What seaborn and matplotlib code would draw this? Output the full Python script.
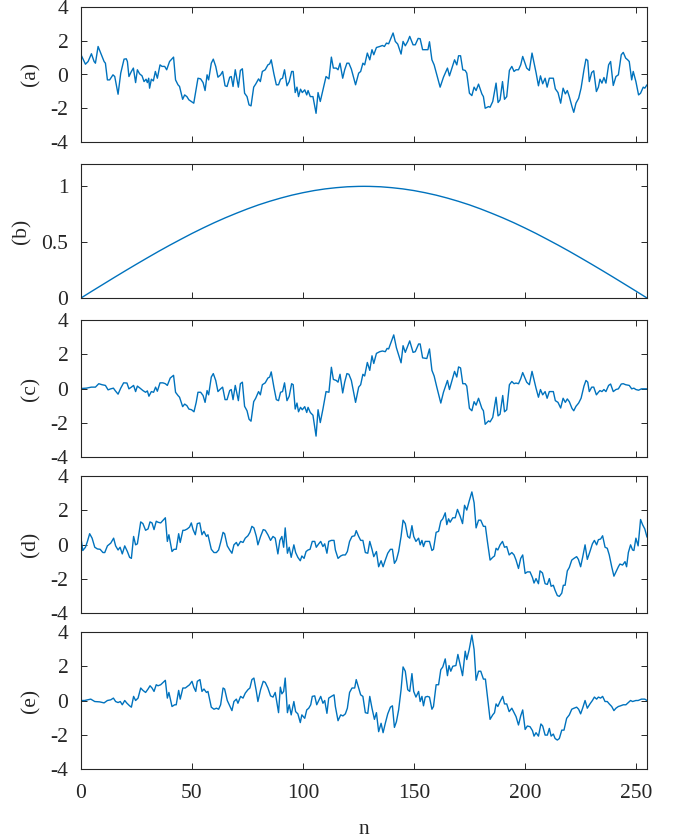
import matplotlib
matplotlib.use("Agg")
import matplotlib.pyplot as plt
import pandas as pd
import seaborn as sns

# ---------------- data ----------------
series_a = [
    (0, 1.17), (2, 0.61), (3.2, 0.77), (4.7, 1.23), (5.9, 0.77), (6.5, 0.67), (7.7, 1.66), (9.2, 1.17),
    (10.4, 0.77), (11, 0.67), (11.9, -0.32), (12.9, -0.32), (14.4, -0.02), (15.2, -0.12), (16.7, -1.17),
    (17.9, 0.08), (19.4, 0.91), (20.4, 0.93), (20.9, 0.77), (21.6, -0.12), (22.7, 0.18), (23.6, 0.38),
    (24.6, -0.48), (25.4, 0.28), (26.4, 0.04), (27.5, -0.08), (28.4, -0.42), (29.3, -0.28), (29.9, -0.48),
    (30.5, -0.22), (30.9, -0.81), (31.7, -0.28), (32.6, -0.38), (33.5, 0.18), (34.4, -0.22), (35.6, 0.57),
    (36.5, 0.48), (37.7, 0.48), (38.6, 0.28), (39.9, 0.77), (41.7, 1.03), (42.6, -0.32), (43.7, -0.61),
    (44.4, -0.71), (45.8, -1.47), (46.7, -1.21), (47.7, -1.31), (48.6, -1.50), (49.7, -1.60), (50.8, -1.70),
    (51.8, -0.91), (52.7, -0.22), (53.9, -0.26), (55, -0.48), (55.9, -0.95), (56.8, -0.02), (57.5, -0.32),
    (58.7, 0.67), (59.6, 0.91), (60.7, 0.48), (61.7, -0.16), (62.9, -0.02), (63.8, 0.18), (64.9, -0.67),
    (65.8, -0.71), (67, -0.16), (67.7, -0.12), (68.5, -0.71), (69.5, 0.28), (70.9, -0.75), (71.8, 0.24),
    (72.7, 0.34), (73.7, -1.11), (74.8, -1.31), (75.7, -1.80), (76.6, -1.86), (77.8, -0.75), (78.7, -0.57),
    (80, -0.26), (80.8, -0.42), (81.7, 0.18), (83, 0.28), (84.2, 0.57), (85, 0.63), (85.7, 0.87), (86.9, 0.04),
    (88, -0.61), (89, -0.61), (89.9, -0.28), (90.8, -0.22), (91.7, 0.28), (92.8, -0.67), (93.8, -0.42),
    (94.9, 0.18), (95.6, 0.18), (96.5, -1.07), (97.3, -0.75), (98, -1.31), (98.9, -0.87), (99.7, -1.07),
    (100.8, -0.91), (101.7, -1.21), (102.3, -0.95), (103.3, -1.31), (104.5, -1.31), (105.9, -2.30),
    (106.8, -1.07), (107.8, -1.60), (109, -0.91), (110.4, -0.12), (111.7, -0.26), (112.8, 1.03), (113.7, 0.38),
    (115, 0.38), (115.8, 0.28), (116.7, 0.67), (117.9, -0.22), (118.8, 0.28), (119.8, 0.67), (120.7, 0.67),
    (121.8, 0.32), (123.7, -0.61), (125.1, 0.08), (126, 0.18), (127, 0.67), (127.8, 0.57), (129, 1.27),
    (130.1, 0.87), (131.1, 1.47), (131.9, 1.17), (133.1, 1.60), (134.6, 1.66), (135.8, 1.72), (136.7, 1.66),
    (137.6, 1.86), (138.6, 1.82), (140.6, 2.46), (141.6, 1.96), (142.7, 1.80), (144.2, 1.21), (145.1, 1.96),
    (146.1, 1.70), (147.2, 1.96), (148.1, 2.26), (149.6, 1.76), (150.6, 1.76), (151.9, 2.14), (152.8, 2.12),
    (153.9, 1.47), (155.5, 1.47), (156.3, 1.47), (157, 1.94), (158.1, 0.87), (159.1, 0.57), (160.3, -0.02),
    (161.8, -0.75), (163.3, -0.16), (165.1, 0.38), (166, -0.08), (168.3, 0.87), (169.3, 0.57), (170.1, 1.11),
    (171, 1.11), (172, 0.28), (173.1, 0.24), (173.8, 0.08), (175, -1.11), (176.1, -1.25), (177.1, -0.75),
    (178, -0.95), (179.1, -0.57), (180.6, -1.15), (181.3, -1.31), (182.1, -2.00), (183.6, -1.90),
    (184.3, -1.94), (185.5, -1.60), (187, -0.51), (187.9, -1.66), (188.8, -1.50), (189.9, -0.42),
    (190.8, -1.47), (191.8, -1.31), (193, 0.24), (194.1, 0.48), (195.1, 0.18), (196, 0.28), (197.1, 0.28),
    (198.1, 0.57), (199, 1.07), (200.8, 0.38), (202, 0.24), (203.2, 1.27), (205, 0.12), (206.1, -0.67),
    (207, -0.08), (208, -0.55), (209.1, -0.22), (210, -0.75), (211, -0.22), (212.8, -0.22), (213.7, -0.85),
    (214.9, -1.07), (216.1, -1.70), (217.2, -0.81), (218.2, -1.15), (219.1, -0.95), (220, -1.31),
    (221.2, -1.90), (222, -2.24), (223, -1.70), (224.2, -1.41), (225.3, -0.81), (226.6, 0.28), (227.5, 0.91),
    (228.3, 0.83), (229, -0.42), (230.1, 0.12), (231, 0.22), (232.2, -1.01), (233.1, -0.75), (233.8, -0.28),
    (234.7, -0.51), (235.6, -0.18), (236.5, -0.51), (237.7, 0.57), (238.6, 0.77), (239.8, -0.65),
    (241, -0.12), (242.1, -0.02), (243.4, 1.17), (244.3, 1.31), (245.4, 0.97), (246.3, 0.87), (247, 0.77),
    (248.1, -0.32), (248.8, 0.18), (250, -0.42), (251.2, -1.21), (252.1, -1.11), (253.3, -0.75),
    (254, -0.81), (255, -0.61),
]

series_b = [
    (0, 0.0), (5, 0.062), (10, 0.123), (15, 0.184), (20, 0.244), (25, 0.303), (30, 0.361), (35, 0.418),
    (40, 0.473), (45, 0.526), (50, 0.578), (55, 0.627), (60, 0.674), (65, 0.718), (70, 0.759), (75, 0.798),
    (80, 0.834), (85, 0.866), (90, 0.895), (95, 0.921), (100, 0.943), (105, 0.962), (110, 0.977),
    (115, 0.988), (120, 0.996), (125, 0.9995), (127.5, 1.0), (130, 0.9995), (135, 0.996), (140, 0.988),
    (145, 0.977), (150, 0.962), (155, 0.943), (160, 0.921), (165, 0.895), (170, 0.866), (175, 0.834),
    (180, 0.798), (185, 0.759), (190, 0.718), (195, 0.674), (200, 0.627), (205, 0.578), (210, 0.526),
    (215, 0.473), (220, 0.418), (225, 0.361), (230, 0.303), (235, 0.244), (240, 0.184), (245, 0.123),
    (250, 0.062), (255, 0.0),
]

series_c = [
    (0, 0.0), (2.4, 0.02), (4.7, 0.08), (6.5, 0.08), (8, 0.28), (9.5, 0.22), (11, 0.18), (12.2, -0.08),
    (13.4, -0.02), (14.6, 0.02), (15.5, -0.14), (16.7, -0.33), (17.9, 0.02), (19.2, 0.33), (20.7, 0.32),
    (21.6, -0.02), (22.7, 0.08), (23.7, 0.18), (24.6, -0.18), (25.4, 0.14), (26.6, 0.02), (27.9, -0.12),
    (29.1, -0.22), (29.9, -0.14), (30.6, -0.45), (31.7, -0.18), (32.7, -0.22), (33.6, 0.08), (34.4, -0.16),
    (35.6, 0.33), (36.9, 0.33), (38, 0.28), (38.9, 0.18), (40.2, 0.61), (41.7, 0.77), (42.6, -0.22),
    (43.7, -0.41), (44.4, -0.51), (45.8, -1.06), (46.7, -0.91), (47.7, -1.00), (48.6, -1.20), (49.8, -1.24),
    (50.9, -1.36), (51.9, -0.81), (52.7, -0.22), (53.9, -0.22), (55, -0.41), (55.9, -0.81), (56.8, -0.12),
    (57.5, -0.37), (58.7, 0.67), (59.6, 0.87), (60.7, 0.47), (61.7, -0.18), (62.9, -0.02), (63.8, 0.08),
    (64.9, -0.65), (65.8, -0.65), (67, -0.12), (67.7, -0.06), (68.5, -0.65), (69.5, 0.18), (70.9, -0.71),
    (71.8, 0.28), (72.7, 0.37), (73.7, -1.04), (74.8, -1.30), (75.7, -1.79), (76.6, -1.91), (77.8, -0.77),
    (78.7, -0.57), (80, -0.18), (80.8, -0.37), (81.7, 0.22), (83, 0.33), (84.2, 0.61), (85, 0.67), (85.7, 0.97),
    (86.9, 0.08), (88, -0.65), (89, -0.71), (89.9, -0.22), (90.8, -0.18), (91.7, 0.33), (92.8, -0.71),
    (93.8, -0.45), (94.9, 0.28), (95.6, 0.22), (96.5, -1.20), (97.3, -0.85), (98, -1.36), (98.9, -1.10),
    (99.7, -1.24), (100.8, -1.06), (101.7, -1.40), (102.3, -1.10), (103.3, -1.40), (104.5, -1.56),
    (105.9, -2.78), (106.8, -1.24), (107.8, -1.99), (109, -1.20), (110.4, -0.18), (111.7, -0.22), (112.8, 1.24),
    (113.7, 0.53), (115, 0.47), (115.8, 0.37), (116.7, 0.83), (117.9, -0.26), (118.8, 0.37), (119.8, 0.87),
    (120.7, 0.83), (121.8, 0.47), (123.7, -0.81), (125.1, 0.08), (126, 0.22), (127, 0.83), (127.8, 0.73),
    (129, 1.52), (130.1, 1.06), (131.1, 1.91), (131.9, 1.46), (133.1, 2.05), (134.6, 2.15), (135.8, 2.19),
    (137.1, 2.15), (137.9, 2.34), (138.6, 2.31), (140.9, 3.13), (142.1, 2.38), (144.2, 1.50), (145.1, 2.50),
    (146.1, 2.11), (148.1, 2.78), (149.6, 2.11), (150.6, 2.15), (152.1, 2.60), (152.8, 2.60), (153.9, 1.79),
    (155.8, 1.75), (157, 2.31), (158.1, 1.06), (159.1, 0.73), (160.3, 0.08), (162.1, -0.85), (163.3, -0.22),
    (165.1, 0.47), (166, -0.06), (168.3, 1.00), (169.3, 0.67), (170.1, 1.26), (171, 1.20), (172, 0.28),
    (173.1, 0.28), (173.8, 0.14), (175, -1.16), (176.1, -1.30), (177.1, -0.77), (178, -0.97), (179.1, -0.57),
    (180.6, -1.16), (181.3, -1.30), (182.1, -2.09), (183.6, -1.89), (184.3, -1.95), (185.5, -1.69),
    (187, -0.51), (187.9, -1.60), (188.8, -1.50), (190, -0.41), (190.8, -1.36), (191.8, -1.24), (193, 0.22),
    (194.1, 0.41), (195.1, 0.28), (196, 0.32), (197.1, 0.28), (198.1, 0.57), (199, 0.93), (200.8, 0.37),
    (202, 0.22), (203.2, 1.00), (205, 0.02), (206.1, -0.51), (207, -0.06), (208, -0.37), (209.1, -0.18),
    (210, -0.57), (211, -0.18), (212.8, -0.18), (213.7, -0.71), (214.9, -0.81), (216.1, -1.14), (217.2, -0.57),
    (218.2, -0.81), (219.1, -0.61), (220, -0.77), (221.2, -1.16), (222, -1.30), (223, -1.04), (224.2, -0.85),
    (225.3, -0.57), (226.6, 0.14), (227.5, 0.47), (228.3, 0.37), (229, -0.18), (230.1, 0.08), (231, 0.08),
    (232.2, -0.37), (233.1, -0.22), (233.8, -0.12), (234.7, -0.18), (235.6, -0.06), (236.5, -0.18),
    (237.7, 0.18), (238.6, 0.26), (239.8, -0.18), (241, -0.06), (242.1, -0.02), (243.4, 0.26), (244.3, 0.28),
    (245.4, 0.22), (247, 0.18), (248.1, -0.02), (249.1, 0.02), (250, -0.06), (251.2, -0.10), (252.5, -0.02),
    (255, -0.02),
]

series_d = [
    (0, 0.37), (0.8, -0.35), (2, -0.16), (2.9, 0.18), (3.9, 0.63), (5, 0.37), (6.2, -0.16), (7.4, -0.26),
    (8.6, -0.28), (9.9, -0.47), (10.7, -0.47), (11.9, -0.08), (13.4, 0.08), (14.7, 0.37), (15.6, -0.08),
    (16.7, -0.32), (17.6, -0.16), (18.6, -0.55), (19.7, -0.08), (20.9, -0.41), (21.9, -0.75), (22.7, -0.81),
    (23.7, 0.47), (24.6, -0.02), (25.4, 0.04), (26.9, 1.32), (27.9, 1.22), (29.1, 0.83), (30.2, 0.91),
    (31.1, 1.32), (32, 1.26), (32.9, 0.87), (33.9, 1.36), (34.7, 1.30), (35.9, 1.26), (38, 1.56), (38.9, 0.18),
    (39.6, 0.57), (41, -0.41), (41.9, -0.28), (42.9, -0.28), (44, 0.63), (44.7, 0.12), (45.9, 0.83),
    (46.7, 0.83), (47.9, 0.91), (48.9, 1.02), (49.7, 1.26), (50.5, 0.87), (51.5, 0.57), (52.4, 1.22),
    (53.5, 1.26), (54.5, 0.57), (55.4, 0.77), (56.5, 0.47), (57.2, 0.57), (58.7, -0.28), (59.9, -0.47),
    (61, -0.47), (62, -0.32), (62.9, 0.12), (64, 0.71), (64.7, 0.63), (65.9, -0.08), (67, -0.32), (68, -0.51),
    (68.9, -0.02), (70, 0.12), (70.7, -0.08), (71.9, 0.18), (73, 0.12), (74, 0.37), (75.2, 0.51), (76.1, 0.71),
    (77, 1.06), (77.9, 0.97), (79, 0.47), (79.7, -0.02), (80.9, 0.47), (82.1, 0.87), (83, 0.83), (84.2, 0.57),
    (85.4, 0.24), (86.5, 0.47), (87.5, 0.37), (88.7, -0.55), (89.6, 0.24), (90.5, 0.47), (91.3, -0.16),
    (92, 0.97), (93, -0.51), (93.8, -0.16), (94.7, -0.75), (95.9, -0.02), (96.7, -0.47), (97.7, -0.75),
    (98.8, -0.95), (99.5, -0.67), (100.5, -0.81), (101.4, -0.41), (102.3, -0.32), (103.2, -0.28), (104.2, 0.18),
    (105.3, 0.18), (106, -0.16), (107.1, 0.04), (108, 0.18), (109, -0.12), (109.8, 0.04), (110.8, -0.51),
    (111.6, 0.18), (112.8, 0.24), (114, 0.24), (114.6, -0.32), (115.8, -0.81), (117, -0.67), (118, -0.61),
    (119.1, -0.61), (120, -0.41), (121, 0.18), (122.1, 0.47), (123.3, 0.51), (124, 0.81), (125.1, 0.47),
    (126, 0.24), (127, 0.24), (128.1, -0.47), (129.2, -0.51), (130.1, 0.18), (131.1, -0.28), (131.9, -0.71),
    (133.1, -0.41), (134.1, -1.30), (135.2, -0.95), (136.1, -1.30), (137.1, -0.91), (138.2, -0.51),
    (139.4, -0.28), (140.3, -0.28), (141.2, -1.10), (142.1, -0.91), (143.1, -0.41), (144.2, 0.47), (145.1, 1.42),
    (146.1, 1.22), (147.2, 0.47), (148.1, 0.37), (149.1, 1.10), (149.9, 0.47), (150.9, 0.18), (152.1, 0.37),
    (152.8, -0.02), (153.6, 0.24), (154.3, -0.12), (155.1, 0.18), (156.1, 0.18), (157, 0.18), (158.1, -0.35),
    (158.8, -0.28), (160, 0.71), (161.1, 0.77), (162.1, 1.36), (163, 1.50), (164.1, 1.85), (164.8, 1.16),
    (165.6, 1.50), (166.3, 1.30), (167.5, 1.56), (168.6, 1.56), (169.6, 2.05), (170.8, 1.66), (171.9, 1.22),
    (172.8, 2.29), (173.8, 2.01), (174.9, 2.54), (176.1, 3.07), (177.1, 2.44), (178, 0.97), (179.1, 1.42),
    (180.1, 1.42), (181.3, 1.06), (182.2, 1.06), (183.1, 0.18), (184.3, -0.91), (185.5, -0.75), (186.3, -0.67),
    (187, -0.22), (187.8, -0.32), (188.8, -0.02), (189.9, 0.18), (190.8, -0.16), (191.8, -0.12), (192.9, -0.61),
    (194.1, -0.47), (195.1, -0.61), (196, -0.91), (197.1, -1.40), (198.1, -0.81), (199, -0.61), (200.1, -1.69),
    (201.1, -1.60), (202.3, -1.60), (203.4, -1.93), (204.1, -2.25), (205, -1.99), (206.1, -2.29), (206.8, -1.54),
    (207.9, -1.66), (209.1, -2.29), (210.1, -2.33), (211, -1.99), (211.8, -2.44), (212.8, -2.38), (213.6, -2.68),
    (214.6, -2.98), (215.5, -3.03), (216.6, -2.84), (217.3, -2.38), (218.1, -2.38), (219.1, -1.54),
    (220, -1.34), (221.1, -0.91), (222.1, -0.81), (223.3, -0.71), (224.1, -0.87), (225.1, -1.30), (226, -0.75),
    (227.1, -0.02), (228.1, -0.87), (229.3, -0.41), (230.4, 0.04), (231.3, 0.24), (232.3, -0.02), (233.1, 0.28),
    (234.1, 0.32), (235, 0.51), (236.1, -0.16), (237.1, -0.22), (238, -0.61), (239.1, -1.30), (240.1, -1.85),
    (241, -1.60), (242.1, -1.30), (242.8, -1.14), (244, -1.20), (245.1, -1.00), (245.8, -1.30), (246.6, -0.47),
    (247.6, -0.02), (248.5, -0.32), (249.1, -0.35), (250, 0.37), (251, -0.08), (252.1, 1.46), (253, 1.16),
    (254, 0.91), (255, 0.43),
]

series_e = [
    (0, 0.0), (1.6, 0.0), (4.4, 0.08), (6.2, -0.06), (8.4, -0.08), (10.4, -0.14), (11.9, 0.0), (13.4, 0.04),
    (14.6, 0.14), (15.6, -0.06), (16.7, -0.12), (17.7, -0.06), (18.6, -0.25), (19.7, 0.0), (20.7, -0.16),
    (21.9, -0.31), (22.7, -0.39), (23.7, 0.24), (24.6, 0.0), (25.7, 0.14), (26.9, 0.73), (27.9, 0.59),
    (29.1, 0.47), (30.2, 0.67), (31.1, 0.86), (32, 0.73), (32.9, 0.53), (33.9, 0.92), (34.7, 0.86), (35.9, 0.92),
    (38, 1.18), (38.9, 0.14), (39.6, 0.47), (41, -0.35), (42.2, -0.25), (42.9, -0.25), (44, 0.59), (44.7, 0.08),
    (45.9, 0.73), (47, 0.73), (47.9, 0.82), (48.9, 0.92), (50, 1.12), (50.8, 0.78), (51.7, 0.53), (52.4, 1.12),
    (53.6, 1.22), (54.5, 0.53), (55.4, 0.67), (56.5, 0.47), (57.2, 0.53), (58.7, -0.39), (59.9, -0.51),
    (61, -0.45), (62, -0.51), (62.9, -0.25), (64, 0.73), (64.7, 0.67), (65.9, 0.0), (67, -0.31), (68, -0.59),
    (68.9, -0.06), (70, 0.08), (70.7, -0.16), (71.9, 0.24), (73, 0.14), (74, 0.43), (75.2, 0.63), (76.1, 0.73),
    (77, 1.22), (77.9, 1.31), (79, 0.53), (79.7, -0.06), (80.9, 0.63), (82.1, 1.12), (83, 1.06), (84.2, 0.73),
    (85.4, 0.27), (86.5, 0.20), (87.5, 0.47), (89, -0.71), (89.8, 0.78), (90.5, 0.39), (91.3, 0.53), (92, 1.31),
    (93, -0.71), (93.8, -0.25), (94.7, -0.84), (95.9, -0.06), (96.7, -0.65), (97.7, -0.78), (98.8, -1.29),
    (99.5, -0.84), (100.8, -1.04), (101.7, -0.55), (102.6, -0.45), (103.5, -0.25), (104.2, 0.24), (105.3, 0.27),
    (106.2, -0.25), (107.1, 0.0), (108, 0.24), (109, -0.16), (109.8, 0.0), (110.8, -0.75), (111.6, 0.14),
    (112.8, 0.24), (114, 0.33), (114.6, -0.35), (115.8, -1.18), (117, -0.84), (118, -0.90), (119.1, -0.78),
    (120, -0.45), (121, 0.47), (122.1, 0.73), (123.3, 0.73), (124, 1.22), (125.1, 0.73), (126, 0.33),
    (127, 0.24), (128.1, -0.71), (129.2, -0.75), (130.1, 0.24), (131.1, -0.45), (132.2, -1.10), (133.1, -0.71),
    (134.1, -1.82), (135.2, -1.33), (136.1, -1.88), (137.1, -1.33), (138.2, -0.78), (139.4, -0.39),
    (140.3, -0.31), (141.2, -1.57), (142.1, -1.24), (143.1, -0.55), (144.2, 0.63), (145.1, 1.96), (146.1, 1.71),
    (147.2, 0.63), (148.1, 0.53), (149.1, 1.57), (149.9, 0.53), (150.9, 0.20), (152.1, 0.53), (152.8, -0.06),
    (153.6, 0.24), (154.3, -0.31), (155.1, 0.20), (156.1, 0.24), (157, 0.20), (158.1, -0.51), (158.8, -0.35),
    (160, 0.92), (161.1, 0.92), (162.1, 1.80), (163, 1.96), (164.1, 2.43), (165.1, 1.45), (165.8, 2.04),
    (166.6, 1.71), (167.5, 2.00), (168.9, 2.04), (169.8, 2.69), (170.8, 2.10), (171.9, 1.45), (173.1, 2.88),
    (173.8, 2.39), (174.9, 2.98), (176.1, 3.82), (177.1, 2.98), (178, 1.18), (179.1, 1.71), (180.1, 1.71),
    (181.3, 1.25), (182.2, 1.25), (184.3, -1.10), (185.5, -0.84), (186.3, -0.71), (187, -0.20), (187.8, -0.35),
    (188.8, -0.06), (190, 0.24), (190.8, -0.20), (191.8, -0.20), (192.9, -0.65), (194.1, -0.45), (195.1, -0.71),
    (196, -0.94), (197.1, -1.43), (198.1, -0.90), (199, -0.55), (200.1, -1.69), (201.1, -1.49), (202.3, -1.53),
    (203.4, -1.76), (204.1, -2.08), (205, -1.88), (206.1, -2.08), (207.2, -1.37), (208, -1.49), (209.1, -2.02),
    (210.1, -2.02), (211, -1.63), (211.8, -2.08), (212.8, -1.96), (213.6, -2.22), (214.6, -2.31),
    (215.5, -2.22), (216.6, -1.73), (217.6, -1.73), (218.8, -1.04), (220, -0.84), (221.1, -0.51),
    (222.1, -0.45), (223.3, -0.39), (224.2, -0.51), (225.1, -0.78), (226, -0.45), (227.1, 0.0), (228.1, -0.45),
    (229.3, -0.20), (230.4, 0.0), (231.3, 0.20), (232.3, 0.08), (233.1, 0.20), (234.1, 0.14), (235, 0.24),
    (236.1, -0.06), (237.1, -0.06), (238, -0.20), (239.1, -0.35), (240.1, -0.59), (241, -0.45), (242.1, -0.35),
    (243.1, -0.31), (244.3, -0.25), (245.5, -0.25), (246.6, -0.12), (247.6, 0.0), (248.5, -0.06), (250, 0.0),
    (251, 0.0), (252.5, 0.08), (254, 0.08), (255, 0.0),
]

panel_labels = ["(a)", "(b)", "(c)", "(d)", "(e)"]
x_ticks = [0, 50, 100, 150, 200, 250]
signal_ticks = [-4, -2, 0, 2, 4]
window_ticks = [0, 0.5, 1]
x_label = "n"

# ---------------- style ----------------
sns.set_style("ticks")
plt.rcParams["font.family"] = ["Liberation Serif", "DejaVu Serif"]
plt.rcParams["axes.unicode_minus"] = False

LINE = "#0072BD"
AXC = "#262626"
FS = 15.5

fig = plt.figure(figsize=(6.77, 8.38), dpi=100)
W, H = 677.0, 838.0
# (top, bottom) pixel edges of each panel
edges = [(7, 142), (164, 298), (320, 457), (476, 613), (632, 769)]
left, right = 81, 647

all_series = [series_a, series_b, series_c, series_d, series_e]
for i, (ser, lab, (t, b)) in enumerate(zip(all_series, panel_labels, edges)):
    ax = fig.add_axes([left / W, 1 - b / H, (right - left) / W, (b - t) / H])
    df = pd.DataFrame(ser, columns=["n", "value"])
    sns.lineplot(data=df, x="n", y="value", ax=ax, color=LINE, linewidth=1.0,
                 estimator=None, sort=False)
    ax.set_xlim(0, 255)
    if i == 1:
        ax.set_ylim(0, 1.2)
        ax.set_yticks(window_ticks)
        ax.set_yticklabels(["0", "0.5", "1"])
    else:
        ax.set_ylim(-4, 4)
        ax.set_yticks(signal_ticks)
        ax.set_yticklabels([str(v) for v in signal_ticks])
    ax.set_xticks(x_ticks)
    ax.tick_params(direction="in", top=True, right=True, length=4, width=0.7,
                   color=AXC, labelcolor=AXC, labelsize=FS)
    ax.tick_params(axis="y", pad=9)
    ax.tick_params(axis="x", pad=11)
    for s in ax.spines.values():
        s.set_visible(True)
        s.set_color(AXC)
        s.set_linewidth(0.8)
    ax.set_ylabel(lab, fontsize=FS, color=AXC, labelpad=7)
    if i < 4:
        ax.set_xticklabels([])
        ax.set_xlabel("")
    else:
        ax.set_xticklabels([str(v) for v in x_ticks])
        ax.set_xlabel(x_label, fontsize=FS, color=AXC, labelpad=12)

fig.savefig("out.png", dpi=100)
